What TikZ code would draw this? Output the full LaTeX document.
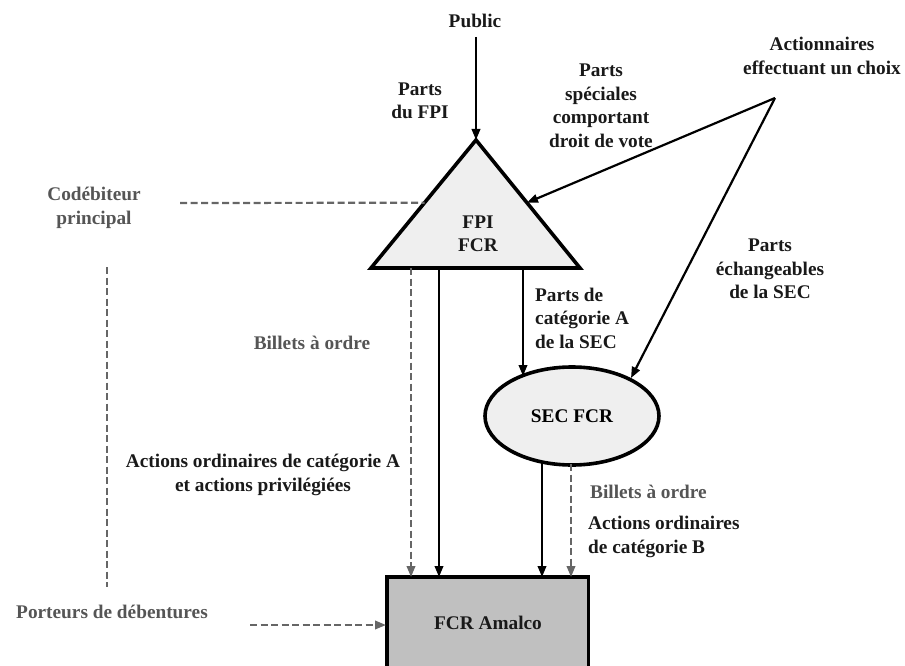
\documentclass[tikz,border=0pt]{standalone}
\usepackage{fontspec}
\setmainfont{Liberation Serif}
\usetikzlibrary{arrows.meta,shapes.geometric,calc}
\definecolor{txtgray}{HTML}{555555}
\definecolor{dashgray}{HTML}{666666}
\definecolor{lightfill}{HTML}{EFEFEF}
\definecolor{boxfill}{HTML}{C0C0C0}
\begin{document}
\begin{tikzpicture}[x=1pt,y=-1pt,
  lbl/.style={font=\bfseries\fontsize{19.3}{23.5}\selectfont, align=center, inner sep=0pt, text=black!90},
  glbl/.style={lbl, text=txtgray},
  solidarr/.style={line width=2.2pt, -{Triangle[length=11pt,width=8.5pt]}},
  dasharr/.style={line width=2.2pt, dashgray, dash pattern=on 7pt off 3.5pt, -{Triangle[length=11pt,width=8.5pt]}},
  dashln/.style={line width=2.2pt, dashgray, dash pattern=on 7pt off 3.5pt},
  shapeline/.style={line width=3.6pt, line join=miter},
]
\useasboundingbox (0,0) rectangle (905,666);

% FPI FCR triangle
\coordinate (tA) at (476,140);
\coordinate (tL) at (371,268);
\coordinate (tR) at (580,268);
\draw[shapeline, fill=lightfill] (tA) -- (tL) -- (tR) -- cycle;
\node[lbl] (fpi) at (478,234) {FPI\\FCR};

% SEC FCR ellipse
\node[ellipse, draw, shapeline, fill=lightfill, minimum width=174pt, minimum height=98pt, font=\bfseries\fontsize{19.3}{23.5}\selectfont] (sec) at (572,416) {SEC FCR};

% FCR Amalco box
\node[fill=boxfill, minimum width=201pt, minimum height=95pt, anchor=north west, inner sep=0pt] (box) at (387,577) {};
\draw[line width=3.8pt, line join=miter] (box.south west) -- (box.north west) -- (box.north east) -- (box.south east);
\node[lbl] (amal) at (488,623) {FCR Amalco};

% labels
\node[lbl] (pub) at (475,21) {Public};
\node[lbl] (pfpi) at (420,101) {Parts\\du FPI};
\node[lbl] (pspec) at (601,106) {Parts\\spéciales\\comportant\\droit de vote};
\node[lbl] (act) at (822,56) {Actionnaires\\effectuant un choix};
\node[lbl] (pech) at (770,269) {Parts\\échangeables\\de la SEC};
\node[lbl, align=left, anchor=west] (pcat) at (535,318) {Parts de\\catégorie A\\de la SEC};
\node[lbl] (aoa) at (263,475) {Actions ordinaires de catégorie A\\et actions privilégiées};
\node[glbl, anchor=west] (bil2) at (590,492) {Billets à ordre};
\node[lbl, align=left, anchor=west] (aob) at (588,537) {Actions ordinaires\\de catégorie B};
\node[glbl] (bil1) at (312,343) {Billets à ordre};
\node[glbl] (codeb) at (94,208) {Codébiteur\\principal};
\node[glbl] (port) at (112,612) {Porteurs de débentures};

% coordinates
\coordinate (actapex) at (775,98);
\coordinate (triR) at ($(tA)!0.49!(tR)$);
\coordinate (triL) at ($(tA)!0.49!(tL)$);
\coordinate (cdl) at (180,203);
\coordinate (vtop) at (107,267);
\coordinate (vbot) at (107,587);
\coordinate (pstart) at (250,625);
\coordinate (pend) at (386,625);
\coordinate (t1) at (411,268);
\coordinate (t2) at (439,268);
\coordinate (t3) at (523,268);
\coordinate (b1) at (411,577);
\coordinate (b2) at (439,577);
\coordinate (b3) at (542,577);
\coordinate (b4) at (571,577);
\coordinate (s3) at (523,376);
\coordinate (ecn) at (631,378);
\coordinate (e1) at (542,462);
\coordinate (e2) at (571,464);
\coordinate (pubend) at (476,37);

% connectors
\draw[solidarr] (pubend) -- (tA);
\draw[solidarr] (actapex) -- (triR);
\draw[solidarr] (actapex) -- (ecn);
\draw[dashln] (cdl) -- (triL);
\draw[dashln] (vtop) -- (vbot);
\draw[dasharr] (pstart) -- (pend);
\draw[dasharr] (t1) -- (b1);
\draw[solidarr] (t2) -- (b2);
\draw[solidarr] (t3) -- (s3);
\draw[solidarr] (e1) -- (b3);
\draw[dasharr] (e2) -- (b4);
\end{tikzpicture}
\end{document}
